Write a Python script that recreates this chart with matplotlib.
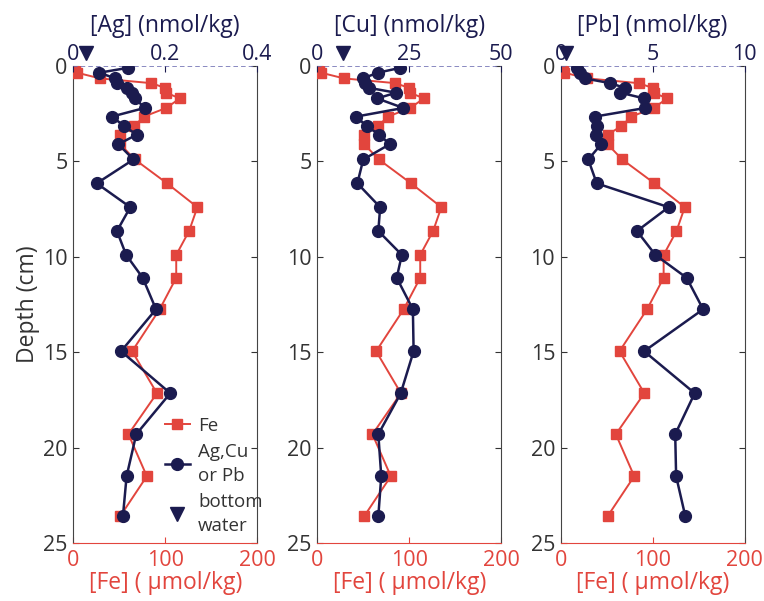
import matplotlib
matplotlib.use('Agg')
import matplotlib.pyplot as plt
from matplotlib.lines import Line2D

plt.rcParams['font.family'] = ['Open Sans', 'DejaVu Sans']

# ---- data ----
depth_cm = [0.1, 0.35, 0.65, 0.9, 1.15, 1.4, 1.7, 2.2, 2.65, 3.15, 3.6, 4.1,
            4.9, 6.15, 7.4, 8.65, 9.9, 11.1, 12.75, 14.95, 17.15, 19.3, 21.5, 23.6]
fe_umol = [2, 4, 29, 85, 100, 101, 116, 101, 77, 66, 51, 51,
           67, 102, 135, 126, 112, 112, 94, 64, 91, 60, 80, 51]
ag_nmol = [0.118, 0.057, 0.091, 0.095, 0.116, 0.128, 0.135, 0.155, 0.084, 0.111, 0.138, 0.098,
           0.131, 0.051, 0.124, 0.095, 0.115, 0.151, 0.180, 0.104, 0.211, 0.137, 0.116, 0.108]
cu_nmol = [22.5, 16.5, 12.4, 13.0, 14.2, 21.4, 16.3, 23.4, 10.6, 13.4, 16.9, 19.7,
           12.5, 10.9, 17.1, 16.6, 23.0, 21.6, 26.0, 26.2, 22.7, 16.6, 17.4, 16.6]
pb_nmol = [0.9, 1.05, 1.3, 2.7, 3.5, 3.25, 4.55, 4.6, 1.87, 2.0, 1.9, 2.2,
           1.5, 1.96, 5.87, 4.15, 5.15, 6.85, 7.75, 4.54, 7.29, 6.23, 6.28, 6.78]

bottom_water_ag = 0.027
bottom_water_cu = 6.9
bottom_water_pb = 0.3
bottom_water_depth = -0.7

metal_names = ['[Ag] (nmol/kg)', '[Cu] (nmol/kg)', '[Pb] (nmol/kg)']
metal_ticks = [[0, 0.2, 0.4], [0, 25, 50], [0, 5, 10]]
metal_ticklabels = [['0', '0.2', '0.4'], ['0', '25', '50'], ['0', '5', '10']]
fe_ticks = [0, 100, 200]
depth_ticks = [0, 5, 10, 15, 20, 25]

metal_series = [ag_nmol, cu_nmol, pb_nmol]
bottom_water = [bottom_water_ag, bottom_water_cu, bottom_water_pb]

RED = '#e2453d'
NAVY = '#1b1b4f'
GRAY = '#333333'
FS = 15.5
FS_LAB = 16.5
FS_LEG = 13.5

fig = plt.figure(figsize=(7.64, 6.01), dpi=100)
W, H = 764, 601
lefts = [73.3, 317.3, 560.7]
top_px, bot_px = 66, 543
width_px = 183.8

for i in range(3):
    ax = fig.add_axes([lefts[i] / W, 1 - bot_px / H, width_px / W, (bot_px - top_px) / H])
    ax.plot(fe_umol, depth_cm, '-s', color=RED, ms=7, lw=1.4, mec=RED, mfc=RED, zorder=3)
    ax.set_xlim(0, 200)
    ax.set_ylim(25, 0)
    ax.set_xticks(fe_ticks)
    ax.set_yticks(depth_ticks)
    ax.tick_params(axis='x', colors=RED, direction='in', labelsize=FS, pad=5, length=4)
    ax.tick_params(axis='y', colors=GRAY, labelcolor=GRAY, direction='in', labelsize=FS,
                   pad=4, length=4, right=True)
    ax.spines['bottom'].set_color(RED)
    ax.spines['left'].set_color('#444444')
    ax.spines['right'].set_color('#444444')
    ax.spines['top'].set_visible(False)
    ax.set_xlabel('[Fe] ( μmol/kg)', color=RED, fontsize=FS_LAB, labelpad=0)
    if i == 0:
        ax.set_ylabel('Depth (cm)', color=GRAY, fontsize=FS_LAB, labelpad=2)

    ax2 = ax.twiny()
    ax2.axhline(0, ls=(0, (3, 2)), color='#6a6ab0', lw=1.1, zorder=1)
    ax2.plot(metal_series[i], depth_cm, '-o', color=NAVY, ms=8.5, lw=1.8, zorder=4)
    ax2.plot([bottom_water[i]], [bottom_water_depth], 'v', color=NAVY, ms=10,
             clip_on=False, zorder=5)
    ax2.set_xlim(metal_ticks[i][0], metal_ticks[i][-1])
    ax2.set_ylim(25, 0)
    ax2.set_xticks(metal_ticks[i])
    ax2.set_xticklabels(metal_ticklabels[i])
    ax2.tick_params(axis='x', colors=NAVY, direction='in', labelsize=FS, pad=1, length=4)
    for s in ['top', 'bottom', 'left', 'right']:
        ax2.spines[s].set_visible(False)
    ax2.set_xlabel(metal_names[i], color=NAVY, fontsize=FS_LAB, labelpad=8)

    if i == 0:
        handles = [
            Line2D([], [], color=RED, marker='s', ms=7, lw=1.4),
            Line2D([], [], color=NAVY, marker='o', ms=8.5, lw=1.8),
            Line2D([], [], color=NAVY, marker='v', ms=10, lw=0),
        ]
        labels = ['Fe', 'Ag,Cu\nor Pb', 'bottom\nwater']
        leg = ax2.legend(handles, labels, loc='upper left', bbox_to_anchor=(0.5, 0.265),
                         frameon=False, fontsize=FS_LEG, handlelength=1.3, handletextpad=0.45,
                         labelspacing=0.45, borderpad=0, borderaxespad=0)
        for t in leg.get_texts():
            t.set_linespacing(1.4)
            t.set_color(GRAY)

fig.savefig('out.png', dpi=100)
